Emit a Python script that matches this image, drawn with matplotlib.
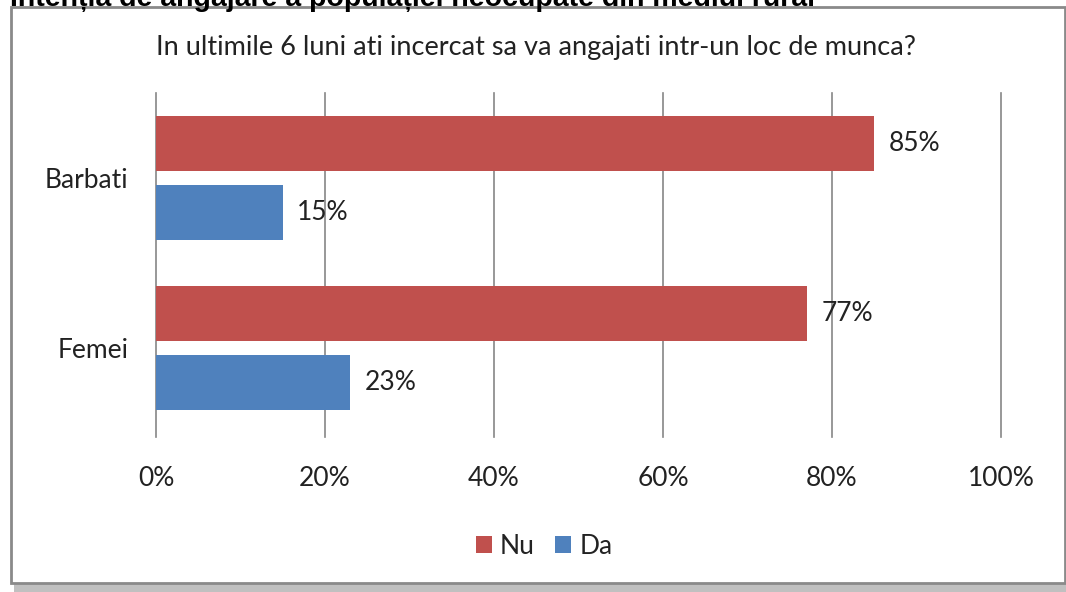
import matplotlib
matplotlib.use("Agg")
import matplotlib.pyplot as plt
from matplotlib.patches import Rectangle
import numpy as np

plt.rcParams['font.family'] = ['Lato', 'DejaVu Sans']

categories = ['Barbati', 'Femei']
nu = [85, 77]
da = [15, 23]
series_names = ['Nu', 'Da']
xticks = [0, 20, 40, 60, 80, 100]
xtick_labels = ['0%', '20%', '40%', '60%', '80%', '100%']
main_title = 'Intenția de angajare a populației neocupate din mediul rural'
chart_title = 'In ultimile 6 luni ati incercat sa va angajati intr-un loc de munca?'

RED = '#C0504D'
BLUE = '#4F81BD'
GRID = '#868686'

W, H = 1066, 592
fig = plt.figure(figsize=(W / 100, H / 100), dpi=100)

# chart frame and shadow
fig.patches.append(Rectangle((14 / W, 0), (W - 14) / W, 9 / H, transform=fig.transFigure,
                             facecolor='#c0c0c0', edgecolor='none', zorder=0))
fig.patches.append(Rectangle((10.5 / W, 1 - 583 / H), (1064.5 - 10.5) / W, (583 - 7) / H,
                             transform=fig.transFigure, facecolor='white',
                             edgecolor='#8a8a8a', linewidth=2, zorder=1))

ax = fig.add_axes([156 / W, 1 - 437 / H, (1001 - 156) / W, (437 - 93) / H])
ax.set_zorder(2)
ax.patch.set_alpha(0)

n = len(categories)
pos = np.arange(n)[::-1].astype(float)  # Barbati top
off = 0.203
h = 0.326
b1 = ax.barh(pos + off, nu, height=h, color=RED, label=series_names[0], zorder=3)
b2 = ax.barh(pos - off, da, height=h, color=BLUE, label=series_names[1], zorder=3)

for bars, vals in ((b1, nu), (b2, da)):
    for r, v in zip(bars, vals):
        ax.annotate(f'{v}%', xy=(v, r.get_y() + r.get_height() / 2), xytext=(10.5, 0),
                    textcoords='offset points', va='center', ha='left',
                    fontsize=19, color='#222222', zorder=4)

ax.set_xlim(0, 100)
ax.set_ylim(-0.523, 1.5)
ax.set_xticks(xticks)
ax.set_xticklabels(xtick_labels)
ax.set_yticks(pos)
ax.set_yticklabels(categories)
ax.tick_params(axis='both', length=0, labelsize=19, labelcolor='#222222')
ax.tick_params(axis='x', pad=21)
ax.tick_params(axis='y', pad=20)
for s in ax.spines.values():
    s.set_visible(False)
ax.xaxis.grid(True, color=GRID, linewidth=1.2)
ax.set_axisbelow(True)
for gl in ax.get_xgridlines():
    gl.set_clip_on(False)

fig.text(536 / W, 1 - 47 / H, chart_title, ha='center', va='center', fontsize=19.5,
         color='#222222', zorder=5)
fig.text(10 / W, 1 - 6 / H, main_title, ha='left', va='baseline', fontsize=20.5,
         fontweight='bold', family=['Liberation Sans', 'DejaVu Sans'], color='black', zorder=5)

leg = fig.legend(handles=[b1, b2], labels=series_names, loc='center',
                 bbox_to_anchor=(544 / W, 1 - 546 / H), ncol=2, frameon=False,
                 fontsize=19, handlelength=0.6, handleheight=0.6, handletextpad=0.3,
                 columnspacing=0.8, labelcolor='#222222')

fig.savefig('out.png', dpi=100)
